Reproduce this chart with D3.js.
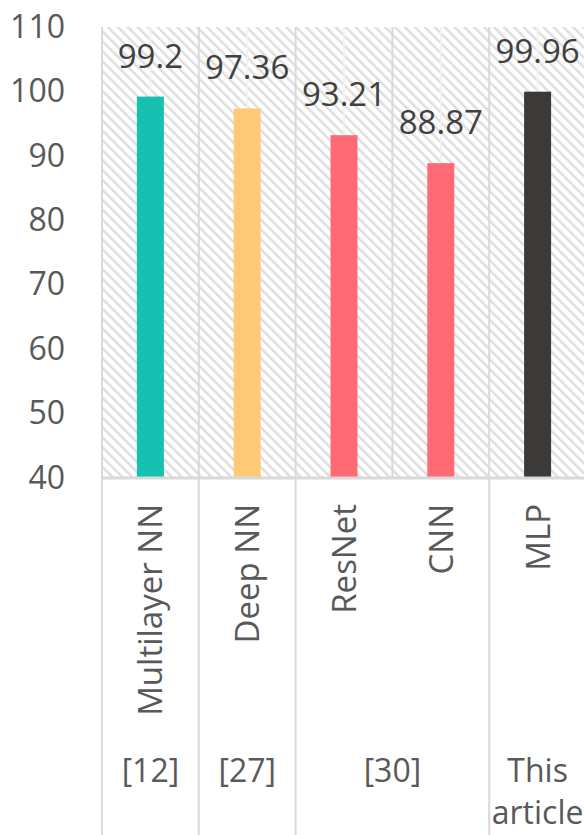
<!DOCTYPE html>
<html>
<head>
<meta charset="utf-8">
<script src="https://cdn.jsdelivr.net/npm/d3@7"></script>
<style>
  html, body { margin: 0; padding: 0; background: #fff; }
  svg { display: block; }
  text { font-family: 'Open Sans', 'Noto Sans', sans-serif; }
</style>
</head>
<body>
<svg width="584" height="835"></svg>
<script>
(function() {
  'use strict';

  const categories = ['Multilayer NN', 'Deep NN', 'ResNet', 'CNN', 'MLP'];
  const values = [99.2, 97.36, 93.21, 88.87, 99.96];
  const labels = ['99.2', '97.36', '93.21', '88.87', '99.96'];
  const colors = ['#17c1b1', '#ffc977', '#ff6b75', '#ff6b75', '#3b3a39'];
  const groups = [
    {name: ['[12]'], from: 0, to: 0},
    {name: ['[27]'], from: 1, to: 1},
    {name: ['[30]'], from: 2, to: 3},
    {name: ['This', 'article'], from: 4, to: 4},
  ];
  const yTicks = [40, 50, 60, 70, 80, 90, 100, 110];

  const plot = {left: 102, top: 27, bottom: 478, step: 96.8};
  const barWidth = 27;
  const gridColor = '#d9d9d9';
  const textColor = '#595959';

  const svg = d3.select('svg');
  const height = +svg.attr('height');

  const x = d3.scaleBand()
      .domain(categories)
      .range([plot.left, plot.left + plot.step * categories.length])
      .padding(0);

  const y = d3.scaleLinear()
      .domain([40, 110])
      .range([plot.bottom, plot.top]);

  // hatch pattern
  const pat = svg.append('defs')
      .append('pattern')
      .attr('id', 'hatch')
      .attr('patternUnits', 'userSpaceOnUse')
      .attr('width', 7)
      .attr('height', 7)
      .attr('patternTransform', 'rotate(-45)');
  pat.append('rect')
      .attr('width', 7)
      .attr('height', 7)
      .attr('fill', '#fff');
  pat.append('rect')
      .attr('width', 2.4)
      .attr('height', 7)
      .attr('fill', '#dddddd');

  const x0 = x.range()[0];
  const x1 = x.range()[1];

  svg.append('rect')
      .attr('x', x0)
      .attr('y', plot.top)
      .attr('width', x1 - x0)
      .attr('height', plot.bottom - plot.top)
      .attr('fill', 'url(#hatch)');

  // light lines at category centres
  svg.append('g')
      .selectAll('line')
      .data(categories)
      .join('line')
      .attr('x1', (d) => x(d) + x.bandwidth() / 2)
      .attr('x2', (d) => x(d) + x.bandwidth() / 2)
      .attr('y1', plot.top)
      .attr('y2', plot.bottom)
      .attr('stroke', '#f2f2f2')
      .attr('stroke-width', 2);

  // category boundaries inside the plot
  svg.append('g')
      .selectAll('line')
      .data(categories.slice(1))
      .join('line')
      .attr('x1', (d) => x(d))
      .attr('x2', (d) => x(d))
      .attr('y1', plot.top)
      .attr('y2', plot.bottom)
      .attr('stroke', gridColor)
      .attr('stroke-width', 2);

  // bars
  svg.append('g')
      .selectAll('rect')
      .data(categories)
      .join('rect')
      .attr('x', (d) => x(d) + (x.bandwidth() - barWidth) / 2)
      .attr('y', (d, i) => y(values[i]))
      .attr('width', barWidth)
      .attr('height', (d, i) => plot.bottom - y(values[i]))
      .attr('fill', (d, i) => colors[i]);

  // data labels
  svg.append('g')
      .selectAll('text')
      .data(categories)
      .join('text')
      .attr('x', (d) => x(d) + x.bandwidth() / 2)
      .attr('y', (d, i) => y(values[i]) - 29)
      .attr('text-anchor', 'middle')
      .attr('font-size', 33)
      .attr('fill', '#404040')
      .text((d, i) => labels[i]);

  // y axis labels
  const yAxis = svg.append('g')
      .attr('transform', 'translate(' + plot.left + ',0)')
      .call(d3.axisLeft(y).tickValues(yTicks).tickSize(0).tickPadding(37));
  yAxis.select('.domain').remove();
  yAxis.selectAll('text')
      .attr('font-family', "'Open Sans', 'Noto Sans', sans-serif")
      .attr('font-size', 32)
      .attr('fill', textColor);

  // x axis line
  svg.append('line')
      .attr('x1', x0)
      .attr('x2', x1)
      .attr('y1', plot.bottom)
      .attr('y2', plot.bottom)
      .attr('stroke', gridColor)
      .attr('stroke-width', 3);

  // left border down to the bottom
  svg.append('line')
      .attr('x1', x0)
      .attr('x2', x0)
      .attr('y1', plot.top)
      .attr('y2', height)
      .attr('stroke', gridColor)
      .attr('stroke-width', 2);

  // group separators below the axis
  svg.append('g')
      .selectAll('line')
      .data(groups.slice(1))
      .join('line')
      .attr('x1', (d) => x(categories[d.from]))
      .attr('x2', (d) => x(categories[d.from]))
      .attr('y1', plot.bottom)
      .attr('y2', height)
      .attr('stroke', gridColor)
      .attr('stroke-width', 2);

  // rotated category labels
  svg.append('g')
      .selectAll('text')
      .data(categories)
      .join('text')
      .attr('transform', (d) => 'translate(' + (x(d) + x.bandwidth() / 2 + 12) + ',504) rotate(-90)')
      .attr('text-anchor', 'end')
      .attr('font-size', 33)
      .attr('fill', textColor)
      .text((d) => d);

  // group labels
  const gl = svg.append('g')
      .selectAll('text')
      .data(groups)
      .join('text')
      .attr('text-anchor', 'middle')
      .attr('font-size', 32)
      .attr('fill', textColor);
  gl.each(function(d) {
    const cx = (x(categories[d.from]) + x(categories[d.to]) + x.bandwidth()) / 2;
    d3.select(this).selectAll('tspan')
        .data(d.name)
        .join('tspan')
        .attr('x', cx)
        .attr('y', (t, i) => 782 + i * 42)
        .text((t) => t);
  });
})();
</script>
</body>
</html>
